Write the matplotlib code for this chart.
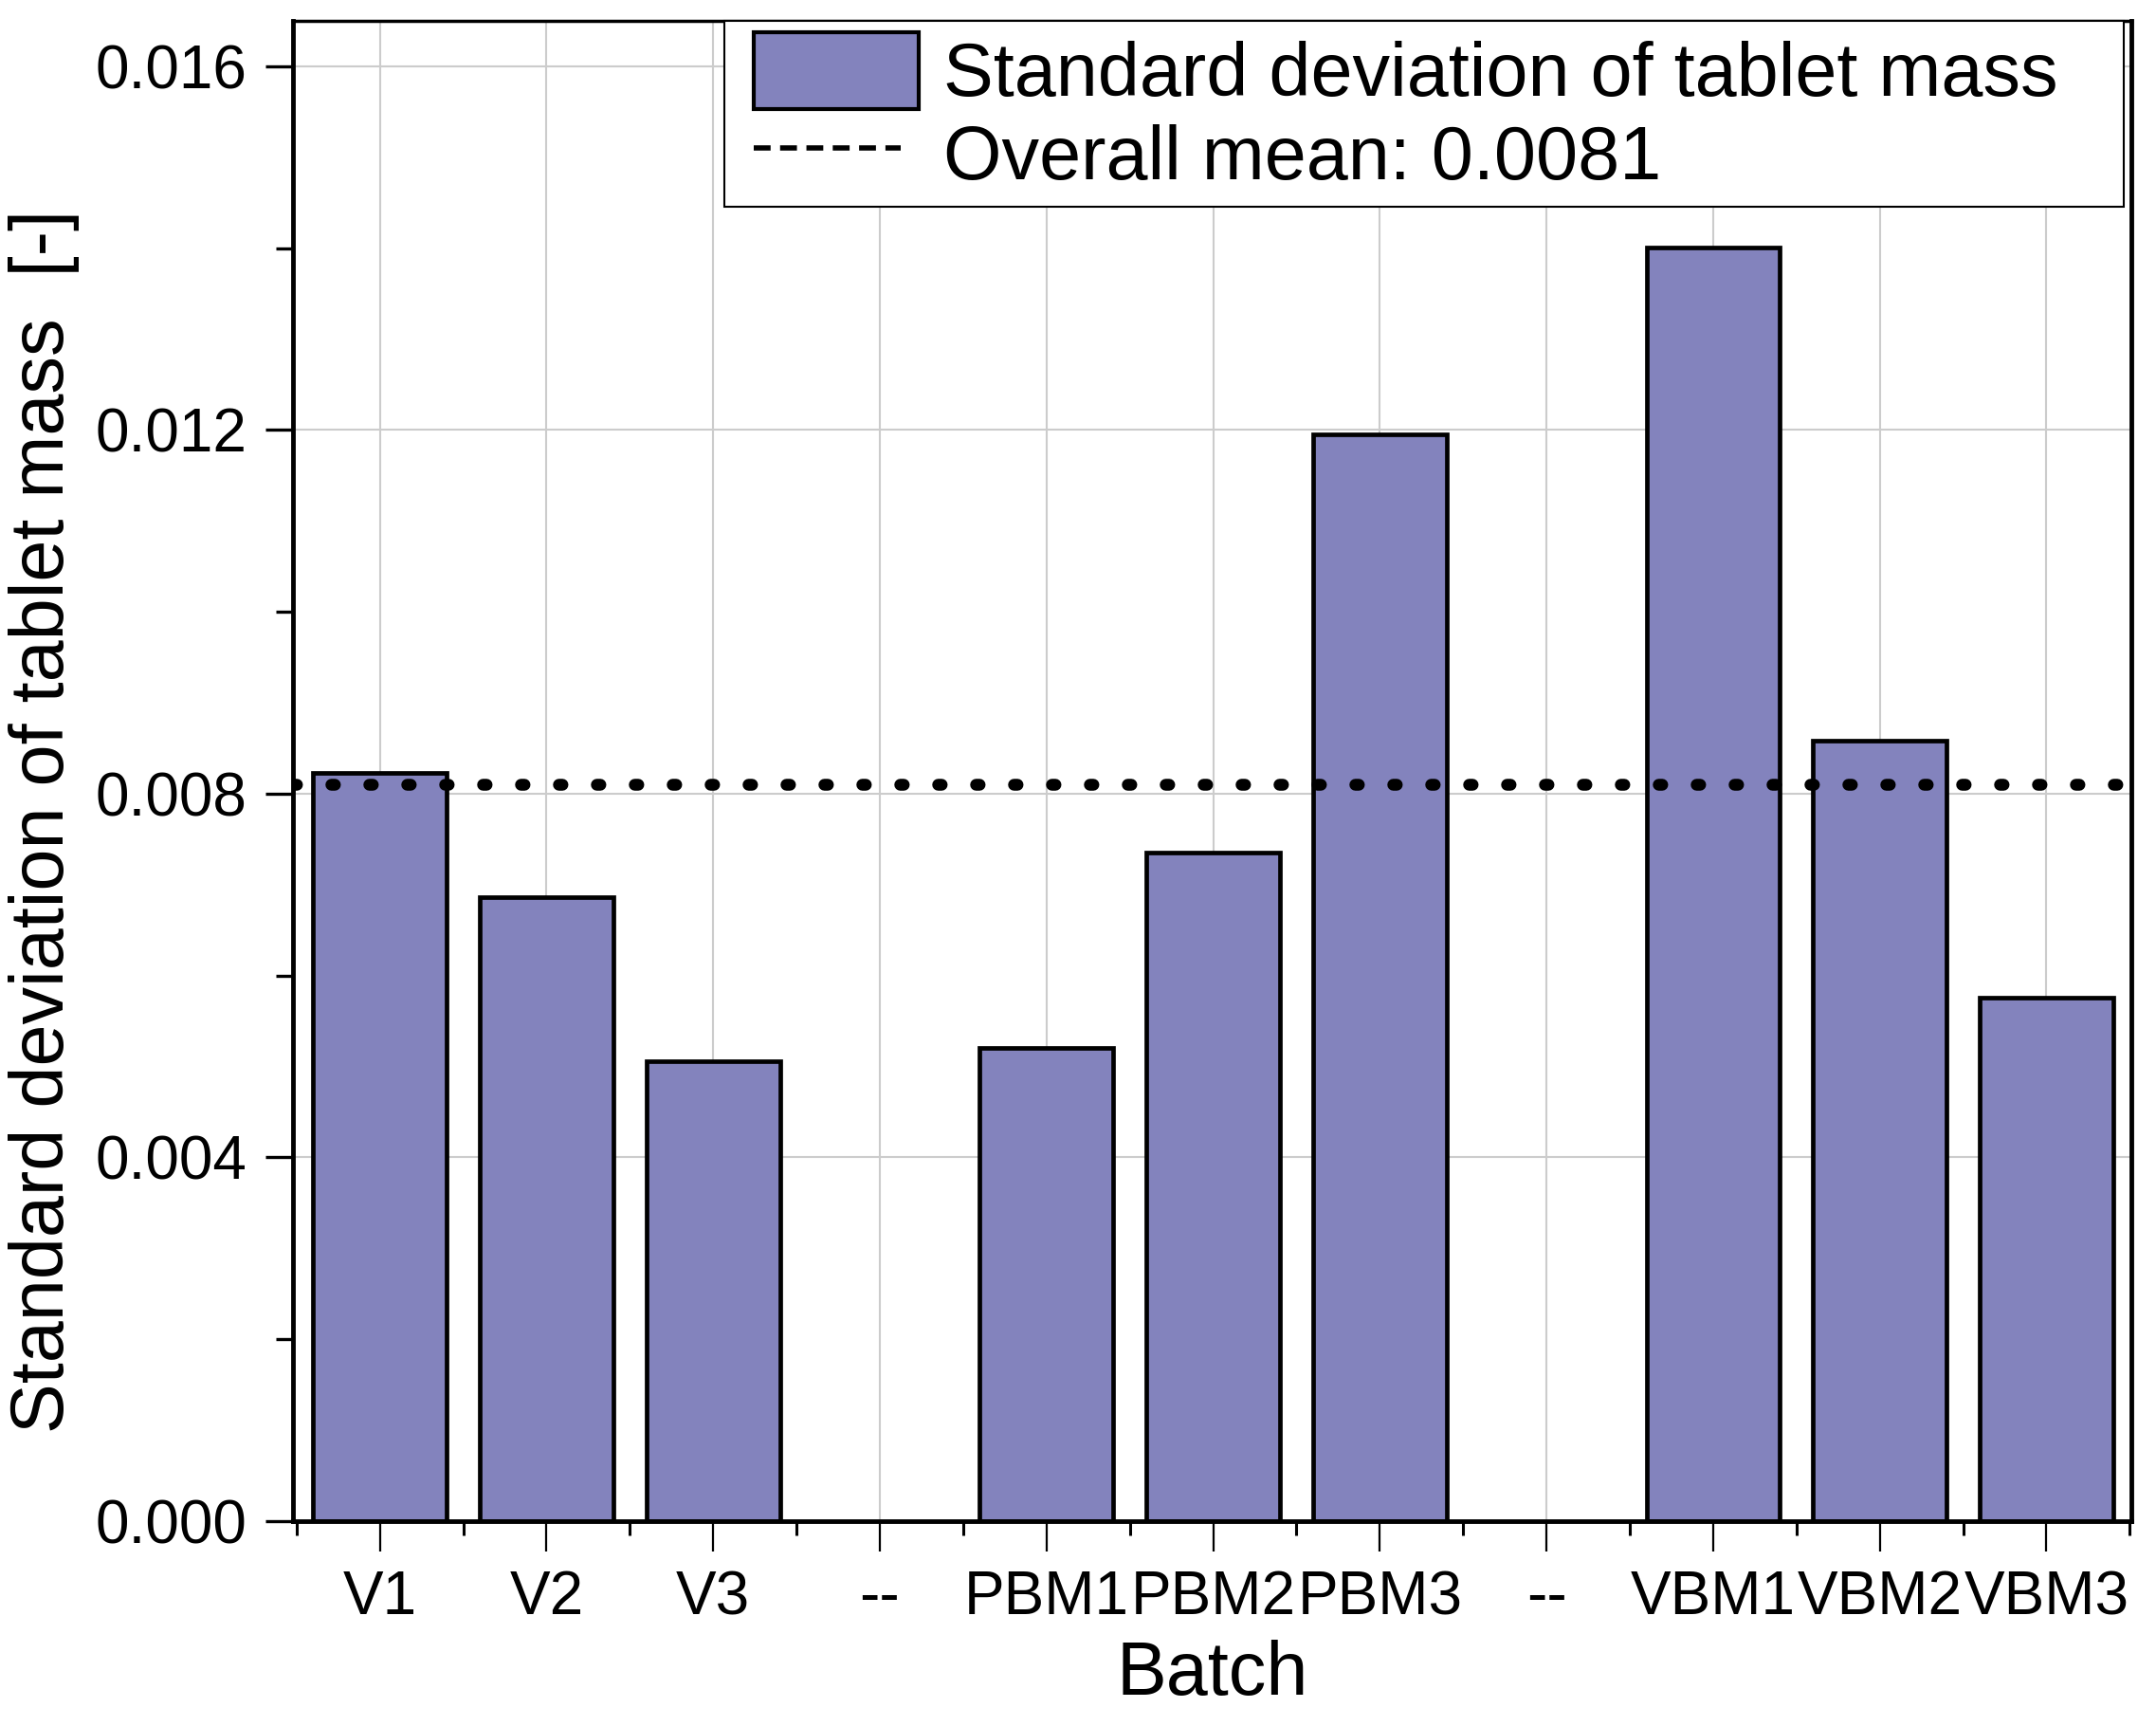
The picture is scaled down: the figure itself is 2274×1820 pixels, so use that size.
import numpy as np
import matplotlib
matplotlib.use('Agg')
import matplotlib.pyplot as plt
from matplotlib.lines import Line2D
from matplotlib.patches import Patch, Rectangle
from matplotlib.legend_handler import HandlerPatch, HandlerLine2D
from matplotlib.ticker import MultipleLocator, FormatStrFormatter

plt.rcParams['font.family'] = ['Liberation Sans', 'DejaVu Sans']

# batches, the "--" entries are empty spacer slots
batches = ['V1', 'V2', 'V3', '--', 'PBM1', 'PBM2', 'PBM3', '--', 'VBM1', 'VBM2', 'VBM3']
std_mass = [0.00823, 0.00686, 0.00506, np.nan, 0.00520, 0.00735, 0.01195,
            np.nan, 0.01401, 0.00858, 0.00576]
overall_mean = 0.0081

bar_color = '#8383BD'
SHIFT = 0.24  # extra left indent of legend handles, in font-size units


def shifted_rect(legend, orig_handle, xdescent, ydescent, width, height, fontsize):
    s = SHIFT * fontsize
    return Rectangle((-xdescent + s, -ydescent), width - s, height)


fig = plt.figure(figsize=(22.74, 18.2), dpi=100)
ax = fig.add_axes([0.136, 0.1187, 0.8526, 0.8692])

x = np.arange(1, len(batches) + 1)
vals = np.array(std_mass)
mask = ~np.isnan(vals)
ax.bar(x[mask], vals[mask], width=0.8, color=bar_color,
       edgecolor='black', linewidth=3.4, zorder=2)

# overall mean as dotted line across the whole plot
ax.axhline(overall_mean, color='black', linewidth=9,
           linestyle=(0, (0.3, 2.9)), dash_capstyle='round', zorder=3)

ax.set_xlim(0.48, 11.51)
ax.set_ylim(0, 0.0165)

ax.set_xticks(x)
ax.set_xticklabels(batches)
ax.set_xticks(np.arange(0.5, 12, 1), minor=True)
ax.yaxis.set_major_locator(MultipleLocator(0.004))
ax.yaxis.set_minor_locator(MultipleLocator(0.002))
ax.yaxis.set_major_formatter(FormatStrFormatter('%.3f'))

ax.tick_params(axis='x', which='major', direction='out', length=23, width=1.6,
               labelsize=46, pad=14)
ax.tick_params(axis='x', which='minor', direction='out', length=11, width=2.2)
ax.tick_params(axis='y', which='major', direction='out', length=21, width=2.4,
               labelsize=46, pad=14)
ax.tick_params(axis='y', which='minor', direction='out', length=13, width=2.4)

ax.grid(True, which='major', color='#cccccc', linewidth=1.5)
ax.set_axisbelow(True)

for side in ['left', 'bottom', 'right', 'top']:
    ax.spines[side].set_linewidth(3.5)
ax.spines['top'].set_linewidth(2.5)

ax.set_xlabel('Batch', fontsize=57, labelpad=10)
ax.set_ylabel('Standard deviation of tablet mass  [-]', fontsize=57)
ax.yaxis.set_label_coords(-0.116, 0.4665)

patch_h = Patch(facecolor=bar_color, edgecolor='black', linewidth=3)
line_h = Line2D([0], [0], color='black', linewidth=4, linestyle=(0, (3.2, 1.8)))
labels = ['Standard deviation of tablet mass', 'Overall mean: 0.0081']
leg = ax.legend([patch_h, line_h], labels, loc='upper left',
                bbox_to_anchor=(0.2347, 0.0, 0.9959 - 0.2347, 1.0), mode='expand',
                borderaxespad=0, fontsize=57, frameon=True, fancybox=False,
                framealpha=1, edgecolor='black', handlelength=2.44,
                handleheight=1.2, handletextpad=0.33, labelspacing=0.05,
                borderpad=0.15,
                handler_map={Patch: HandlerPatch(patch_func=shifted_rect),
                             Line2D: HandlerLine2D(numpoints=2, marker_pad=SHIFT)})
leg.get_frame().set_linewidth(1.5)

fig.savefig('out.png', dpi=100)
